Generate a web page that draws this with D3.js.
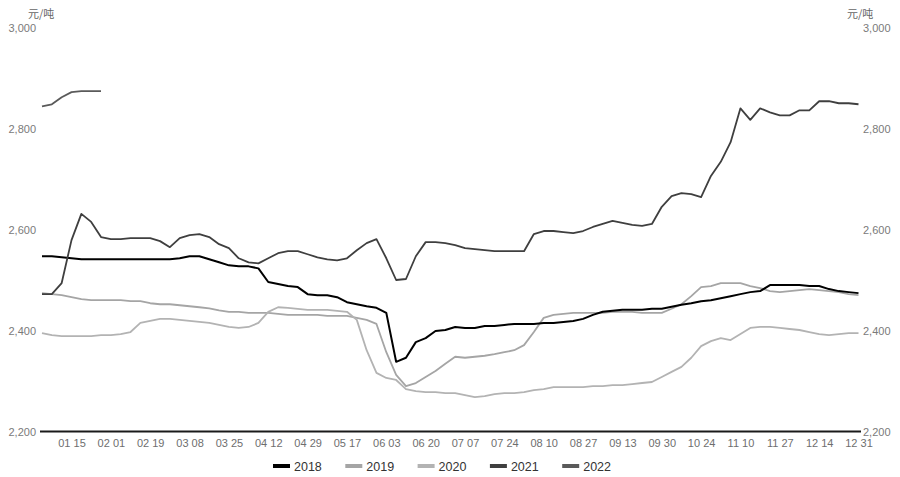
<!DOCTYPE html>
<html>
<head>
<meta charset="utf-8">
<script src="https://cdn.jsdelivr.net/npm/d3@7/dist/d3.min.js"></script>
<style>
  html, body { margin: 0; padding: 0; background: #fff; }
  svg { display: block; font-family: "Liberation Sans", "Noto Sans CJK SC", sans-serif; }
</style>
</head>
<body>
<svg id="chart" width="900" height="477"></svg>
<script>
// ---- data (values sampled every 3 trading days, index 0 .. 249) ----
const tickLabels = ["01 15","02 01","02 19","03 08","03 25","04 12","04 29","05 17","06 03","06 20",
  "07 07","07 24","08 10","08 27","09 13","09 30","10 24","11 10","11 27","12 14","12 31"];
const yTicks = [2200, 2400, 2600, 2800, 3000];
const years = ["2018","2019","2020","2021","2022"];
const colors = ["#000000","#a5a5a5","#b3b3b3","#3f3f3f","#5a5a5a"];

const s2018 = [2547,2547,2545,2543,2541,2541,2541,2541,2541,2541,2541,2541,2541,2541,2543,2547,2547,2541,2535,2529,
  2527,2527,2523,2496,2492,2488,2486,2472,2470,2470,2466,2456,2452,2448,2445,2435,2338,2346,2377,2385,
  2399,2401,2407,2405,2405,2409,2409,2411,2413,2413,2413,2415,2415,2417,2419,2423,2431,2437,2439,2441,
  2441,2441,2443,2443,2447,2451,2454,2458,2460,2464,2468,2472,2476,2478,2490,2490,2490,2490,2488,2488,
  2482,2478,2476,2474];
const s2019 = [2474,2472,2470,2466,2462,2460,2460,2460,2460,2458,2458,2454,2452,2452,2450,2448,2446,2444,2440,2437,
  2437,2435,2435,2435,2433,2431,2431,2431,2431,2429,2429,2429,2425,2421,2413,2357,2312,2290,2296,2308,
  2320,2334,2348,2346,2348,2350,2353,2357,2361,2371,2397,2425,2431,2433,2435,2435,2435,2435,2437,2437,
  2437,2435,2435,2435,2443,2452,2468,2486,2488,2494,2494,2494,2488,2484,2478,2476,2478,2480,2482,2480,
  2478,2476,2472,2470];
const s2020 = [2395,2391,2389,2389,2389,2389,2391,2391,2393,2397,2415,2419,2423,2423,2421,2419,2417,2415,2411,2407,
  2405,2407,2415,2437,2446,2445,2443,2441,2441,2441,2439,2437,2421,2361,2316,2306,2302,2284,2280,2278,
  2278,2276,2276,2272,2268,2270,2274,2276,2276,2278,2282,2284,2288,2288,2288,2288,2290,2290,2292,2292,
  2294,2296,2298,2308,2318,2328,2346,2369,2379,2385,2381,2393,2405,2407,2407,2405,2403,2401,2397,2393,
  2391,2393,2395,2395];
const s2021 = [2472,2472,2494,2579,2631,2615,2585,2581,2581,2583,2583,2583,2577,2565,2583,2589,2591,2585,2571,2563,
  2543,2535,2533,2543,2553,2557,2557,2551,2545,2541,2539,2543,2559,2573,2581,2543,2500,2502,2547,2575,
  2575,2573,2569,2563,2561,2559,2557,2557,2557,2557,2591,2597,2597,2595,2593,2597,2605,2611,2617,2613,
  2609,2607,2611,2645,2666,2672,2670,2664,2706,2734,2773,2840,2817,2840,2832,2826,2826,2836,2836,2854,
  2854,2850,2850,2848];
const s2022 = [2844,2848,2862,2872,2874,2874,2874];

const step = 3;          // trading days between samples
const firstTick = 9;     // index of first labelled date
const tickEvery = 12;    // trading days between labelled dates
const lastIndex = 249;

// ---- layout ----
const svg = d3.select("#chart");
const x = d3.scaleLinear().domain([0, lastIndex]).range([42, 858.5]);
const y = d3.scaleLinear().domain([2200, 3000]).range([431.5, 27.5]);

const series = [s2018, s2019, s2020, s2021, s2022];
const widths = [2, 1.8, 1.8, 1.8, 1.8];

// left / right value axes (labels only)
const fmt = d3.format(",");
const axL = d3.axisLeft(y).tickValues(yTicks).tickFormat(fmt).tickSize(0).tickPadding(0);
const gL = svg.append("g").attr("transform", "translate(36,0)").call(axL);
const axR = d3.axisRight(y).tickValues(yTicks).tickFormat(fmt).tickSize(0).tickPadding(0);
const gR = svg.append("g").attr("transform", "translate(863,0)").call(axR);
[gL, gR].forEach(g => {
  g.select(".domain").remove();
  g.selectAll("text").attr("fill", "#7a7a7a").style("font-size", "11px");
});

// unit labels
svg.append("text").attr("x", 28).attr("y", 18).text("元/吨")
  .attr("fill", "#666").style("font-size", "11px").style("font-family", "Noto Sans CJK SC");
svg.append("text").attr("x", 847).attr("y", 18).text("元/吨")
  .attr("fill", "#666").style("font-size", "11px").style("font-family", "Noto Sans CJK SC");

// category axis at bottom
const tickIdx = tickLabels.map((d, i) => firstTick + i * tickEvery);
const axB = d3.axisBottom(x).tickValues(tickIdx).tickFormat((d, i) => tickLabels[i]).tickSize(0).tickPadding(8);
const gB = svg.append("g").attr("transform", "translate(0,431.5)").call(axB);
gB.select(".domain").remove();
gB.selectAll("text").attr("fill", "#6e6e6e").style("font-size", "11px");
svg.append("line").attr("x1", 40).attr("x2", 861).attr("y1", y(2200)).attr("y2", y(2200))
  .attr("stroke", "#1a1a1a").attr("stroke-width", 2);

// lines
const line = d3.line().x((d, i) => x(i * step)).y(d => y(d)).curve(d3.curveLinear);
const order = [1, 2, 0, 3, 4];
order.forEach(k => {
  svg.append("path").datum(series[k]).attr("d", line)
    .attr("fill", "none").attr("stroke", colors[k]).attr("stroke-width", widths[k])
    .attr("stroke-linejoin", "round");
});

// legend
const lg = svg.append("g").attr("transform", "translate(273,466)");
years.forEach((yr, i) => {
  const g = lg.append("g").attr("transform", `translate(${i * 72.3},0)`);
  g.append("line").attr("x1", 0).attr("x2", 17).attr("y1", 0).attr("y2", 0)
    .attr("stroke", colors[i]).attr("stroke-width", 4);
  g.append("text").attr("x", 21).attr("y", 4.5).text(yr)
    .attr("fill", "#333").style("font-size", "12.5px");
});
</script>
</body>
</html>
